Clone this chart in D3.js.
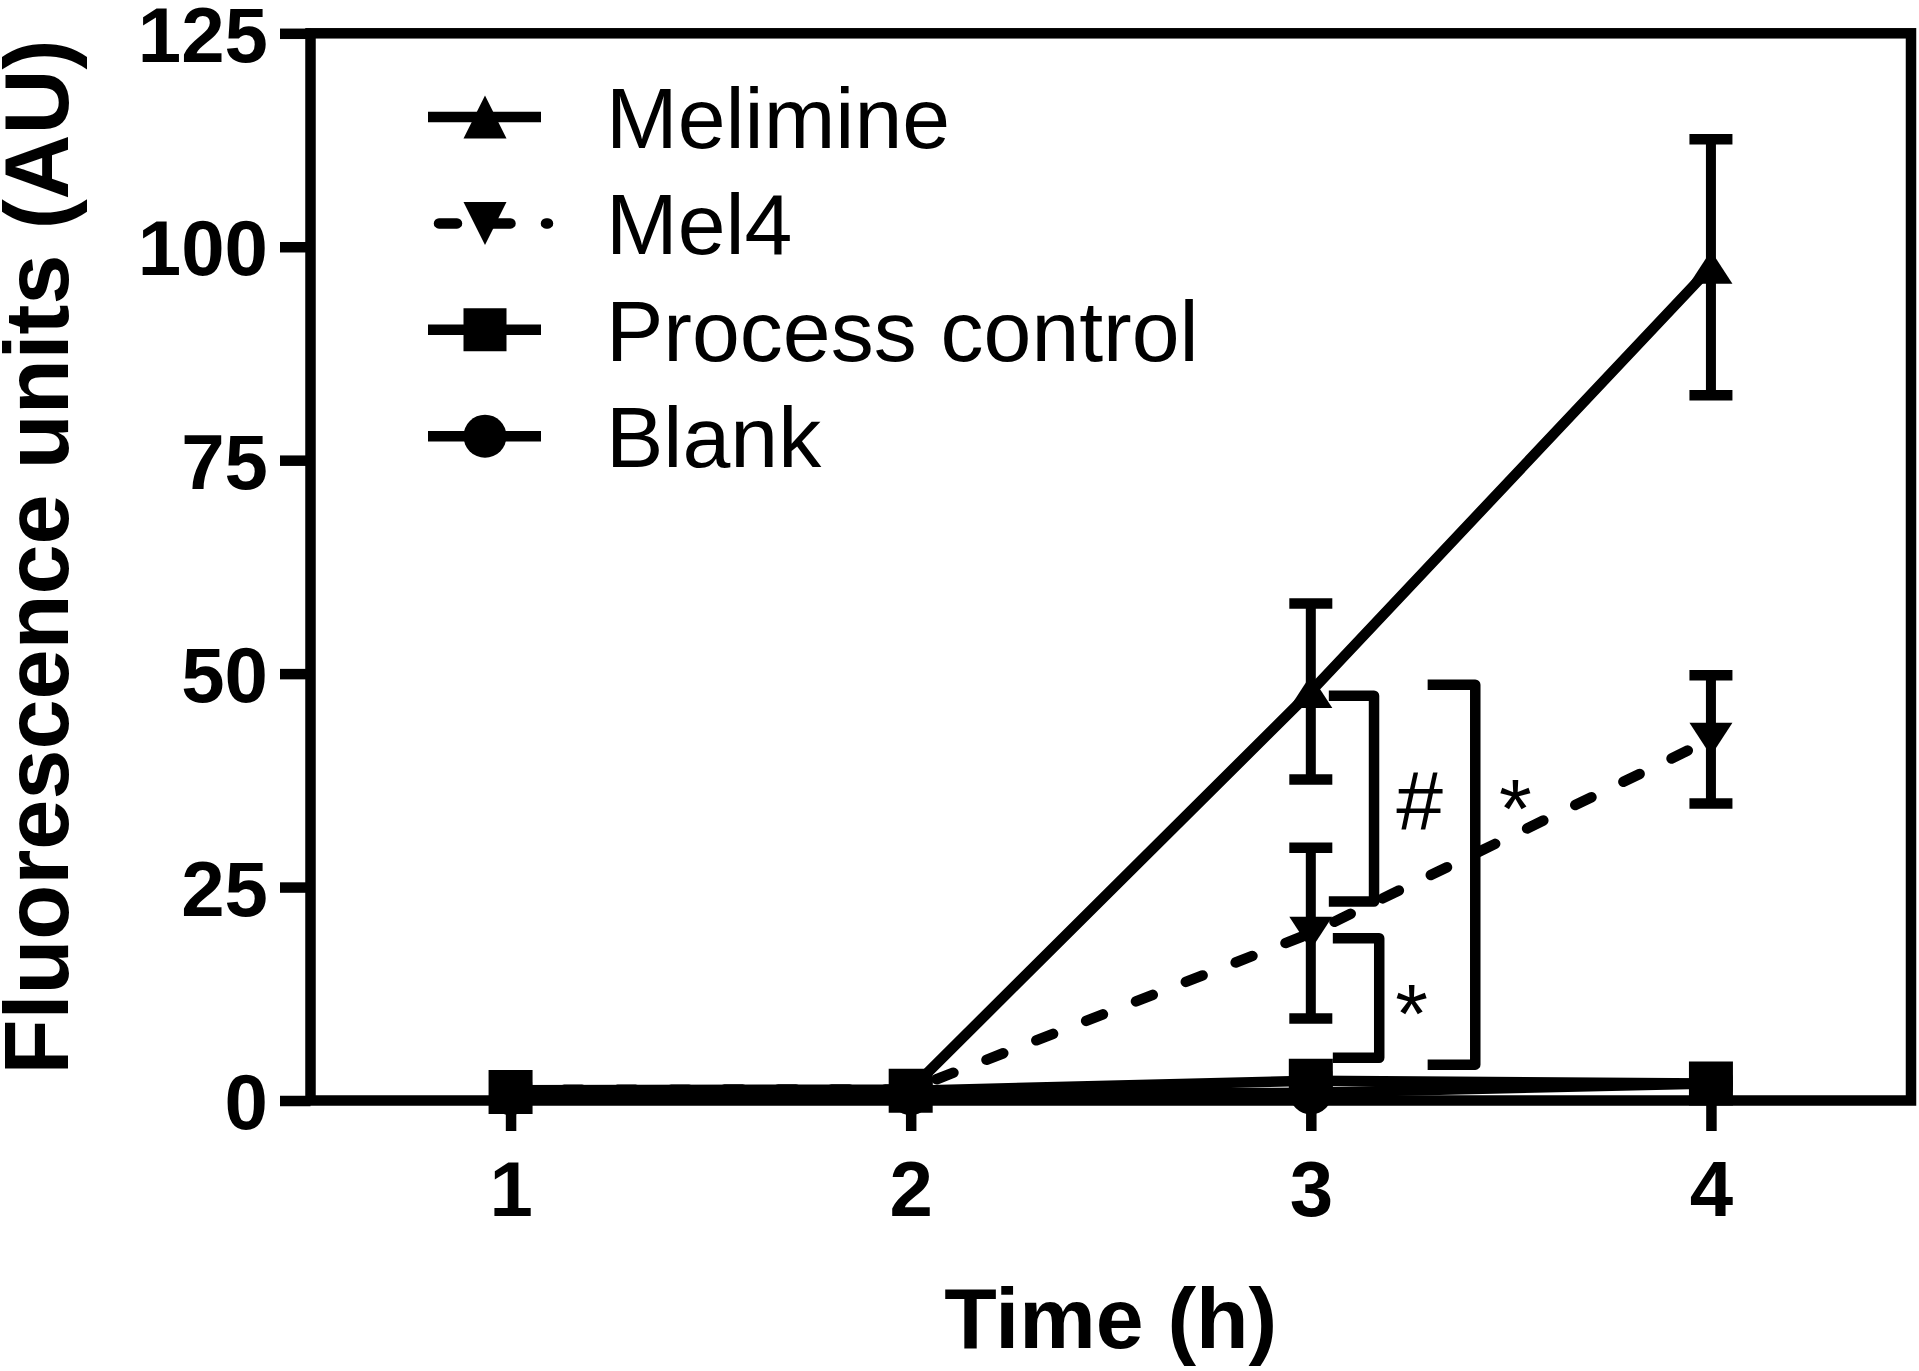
<!DOCTYPE html>
<html>
<head>
<meta charset="utf-8">
<script src="https://cdn.jsdelivr.net/npm/d3@7"></script>
<style>
  body { margin: 0; background: #fff; }
  svg { display: block; }
</style>
</head>
<body>
<div id="chart"></div>
<script>
(function () {

    // data (mean ± error, fluorescence AU)
    var hours = [1, 2, 3, 4];
    var yTicks = [0, 25, 50, 75, 100, 125];

    var seriesNames = ["Melimine", "Mel4", "Process control", "Blank"];
    var melimine = [1.2, 1.3, 47.9, 97.6];
    var melimineErr = [0.3, 0.3, 10.3, 15.0];
    var mel4 = [1.25, 1.3, 19.6, 42.3];
    var mel4Err = [0.3, 0.3, 10.0, 7.5];
    var processControl = [1.0, 1.15, 2.3, 2.0];
    var processControlErr = [0.3, 0.3, 0.5, 0.4];
    var blank = [0.8, 0.8, 0.9, 2.0];
    var blankErr = [0.2, 0.2, 0.2, 0.2];

    // significance brackets, in data units
    var brackets = [
        { x0: 3.045, x1: 3.158, yTop: 47.4, yBot: 23.3, label: "#", lx: 3.272, ly: 35.2 },
        { x0: 3.055, x1: 3.171, yTop: 19.0, yBot: 5.0, label: "*", lx: 3.252, ly: 12.5 },
        { x0: 3.292, x1: 3.411, yTop: 48.7, yBot: 4.2, label: "*", lx: 3.511, ly: 36.4 }
    ];

    var width = 1919, height = 1371;
    var lw = 10.5;

    var x = d3.scaleLinear().domain([0.5, 4.5]).range([310.5, 1911]);
    var y = d3.scaleLinear().domain([0, 125]).range([1100.5, 33.3]);

    var svg = d3.select("#chart").append("svg")
        .attr("width", width)
        .attr("height", height);

    // frame
    svg.append("rect")
        .attr("x", x(0.5))
        .attr("y", y(125))
        .attr("width", x(4.5) - x(0.5))
        .attr("height", y(0) - y(125))
        .attr("fill", "none")
        .attr("stroke", "#000")
        .attr("stroke-width", lw);

    var yAxis = svg.append("g")
        .attr("transform", "translate(" + x(0.5) + ",0)")
        .call(d3.axisLeft(y).tickValues(yTicks).tickSize(30.5).tickPadding(12));
    yAxis.select(".domain").remove();
    yAxis.selectAll(".tick line").attr("stroke-width", lw);
    yAxis.selectAll(".tick text")
        .attr("dy", "0.36em")
        .style("font-family", "'Liberation Sans', Arial, sans-serif")
        .style("font-weight", "bold")
        .style("font-size", "78px")
        .attr("fill", "#000");

    var xAxis = svg.append("g")
        .attr("transform", "translate(0," + y(0) + ")")
        .call(d3.axisBottom(x).tickValues(hours).tickFormat(d3.format("d")).tickSize(30.5).tickPadding(30));
    xAxis.select(".domain").remove();
    xAxis.selectAll(".tick line").attr("stroke-width", lw);
    xAxis.selectAll(".tick text")
        .style("font-family", "'Liberation Sans', Arial, sans-serif")
        .style("font-weight", "bold")
        .style("font-size", "78px")
        .attr("fill", "#000");

    // axis titles
    svg.append("text")
        .attr("transform", "translate(68,557) rotate(-90)")
        .attr("text-anchor", "middle")
        .style("font-family", "'Liberation Sans', Arial, sans-serif")
        .style("font-weight", "bold")
        .style("font-size", "90px")
        .text("Fluorescence units (AU)");

    svg.append("text")
        .attr("x", (x(0.5) + x(4.5)) / 2)
        .attr("y", 1348)
        .attr("text-anchor", "middle")
        .style("font-family", "'Liberation Sans', Arial, sans-serif")
        .style("font-weight", "bold")
        .style("font-size", "86px")
        .text("Time (h)");

    // marker shapes
    function marker(kind, w, h) {
        var a = w / 2, b = h / 2;
        if (kind === "up") return "M0," + (-b) + "L" + a + "," + b + "L" + (-a) + "," + b + "Z";
        if (kind === "down") return "M0," + b + "L" + a + "," + (-b) + "L" + (-a) + "," + (-b) + "Z";
        if (kind === "square") return "M" + (-a) + "," + (-b) + "H" + a + "V" + b + "H" + (-a) + "Z";
        return d3.arc()({ innerRadius: 0, outerRadius: a, startAngle: 0, endAngle: 2 * Math.PI });
    }

    var series = [
        { name: seriesNames[3], values: blank, err: blankErr, shape: "circle", w: 43, h: 43, dash: null },
        { name: seriesNames[1], values: mel4, err: mel4Err, shape: "down", w: 43, h: 33, dash: "18,35.5" },
        { name: seriesNames[0], values: melimine, err: melimineErr, shape: "up", w: 43, h: 33, dash: null },
        { name: seriesNames[2], values: processControl, err: processControlErr, shape: "square", w: 44, h: 44, dash: null }
    ];

    var line = d3.line()
        .x(function (d, i) { return x(hours[i]); })
        .y(function (d) { return y(d); });

    series.forEach(function (s) {
        var g = svg.append("g");
        g.append("path")
            .attr("d", line(s.values))
            .attr("fill", "none")
            .attr("stroke", "#000")
            .attr("stroke-width", lw)
            .attr("stroke-linecap", s.dash ? "round" : "butt")
            .attr("stroke-dasharray", s.dash);

        var pts = s.values.map(function (v, i) { return { t: hours[i], v: v, e: s.err[i] }; });

        var eb = g.selectAll(".eb").data(pts).enter().append("g");
        eb.append("line")
            .attr("x1", function (d) { return x(d.t); })
            .attr("x2", function (d) { return x(d.t); })
            .attr("y1", function (d) { return y(d.v + d.e); })
            .attr("y2", function (d) { return y(d.v - d.e); })
            .attr("stroke", "#000").attr("stroke-width", 10);
        [1, -1].forEach(function (sign) {
            eb.append("line")
                .attr("x1", function (d) { return x(d.t) - 21.5; })
                .attr("x2", function (d) { return x(d.t) + 21.5; })
                .attr("y1", function (d) { return y(d.v + sign * d.e); })
                .attr("y2", function (d) { return y(d.v + sign * d.e); })
                .attr("stroke", "#000").attr("stroke-width", lw);
        });

        g.selectAll(".mk").data(pts).enter().append("path")
            .attr("transform", function (d) { return "translate(" + x(d.t) + "," + y(d.v) + ")"; })
            .attr("d", marker(s.shape, s.w, s.h))
            .attr("fill", "#000");
    });

    // significance brackets
    var br = svg.selectAll(".br").data(brackets).enter().append("g");
    br.append("path")
        .attr("d", function (d) {
            return "M" + x(d.x0) + "," + y(d.yTop) + "H" + x(d.x1) + "V" + y(d.yBot) + "H" + x(d.x0);
        })
        .attr("fill", "none")
        .attr("stroke", "#000")
        .attr("stroke-width", lw)
        .attr("stroke-linejoin", "round");
    br.append("text")
        .attr("x", function (d) { return x(d.lx); })
        .attr("y", function (d) { return y(d.ly); })
        .attr("dy", function (d) { return d.label === "#" ? "0.36em" : "0.58em"; })
        .attr("text-anchor", "middle")
        .style("font-family", "'Liberation Sans', Arial, sans-serif")
        .style("font-size", "84px")
        .text(function (d) { return d.label; });

    // legend
    var legendRows = [
        { name: seriesNames[0], shape: "up", dash: null },
        { name: seriesNames[1], shape: "down", dash: "18,35.5" },
        { name: seriesNames[2], shape: "square", dash: null },
        { name: seriesNames[3], shape: "circle", dash: null }
    ];
    var legend = svg.selectAll(".lg").data(legendRows).enter().append("g")
        .attr("transform", function (d, i) { return "translate(0," + (117 + i * 106.4) + ")"; });
    legend.append("line")
        .attr("x1", function (d) { return d.dash ? 439 : 428; })
        .attr("x2", function (d) { return d.dash ? 548 : 541; })
        .attr("stroke", "#000")
        .attr("stroke-width", lw)
        .attr("stroke-linecap", function (d) { return d.dash ? "round" : "butt"; })
        .attr("stroke-dasharray", function (d) { return d.dash; });
    legend.append("path")
        .attr("transform", "translate(485,0)")
        .attr("d", function (d) { return marker(d.shape, 43, 43); })
        .attr("fill", "#000");
    legend.append("text")
        .attr("x", 606)
        .attr("y", 31)
        .style("font-family", "'Liberation Sans', Arial, sans-serif")
        .style("font-size", "86px")
        .text(function (d) { return d.name; });
})();
</script>
</body>
</html>
